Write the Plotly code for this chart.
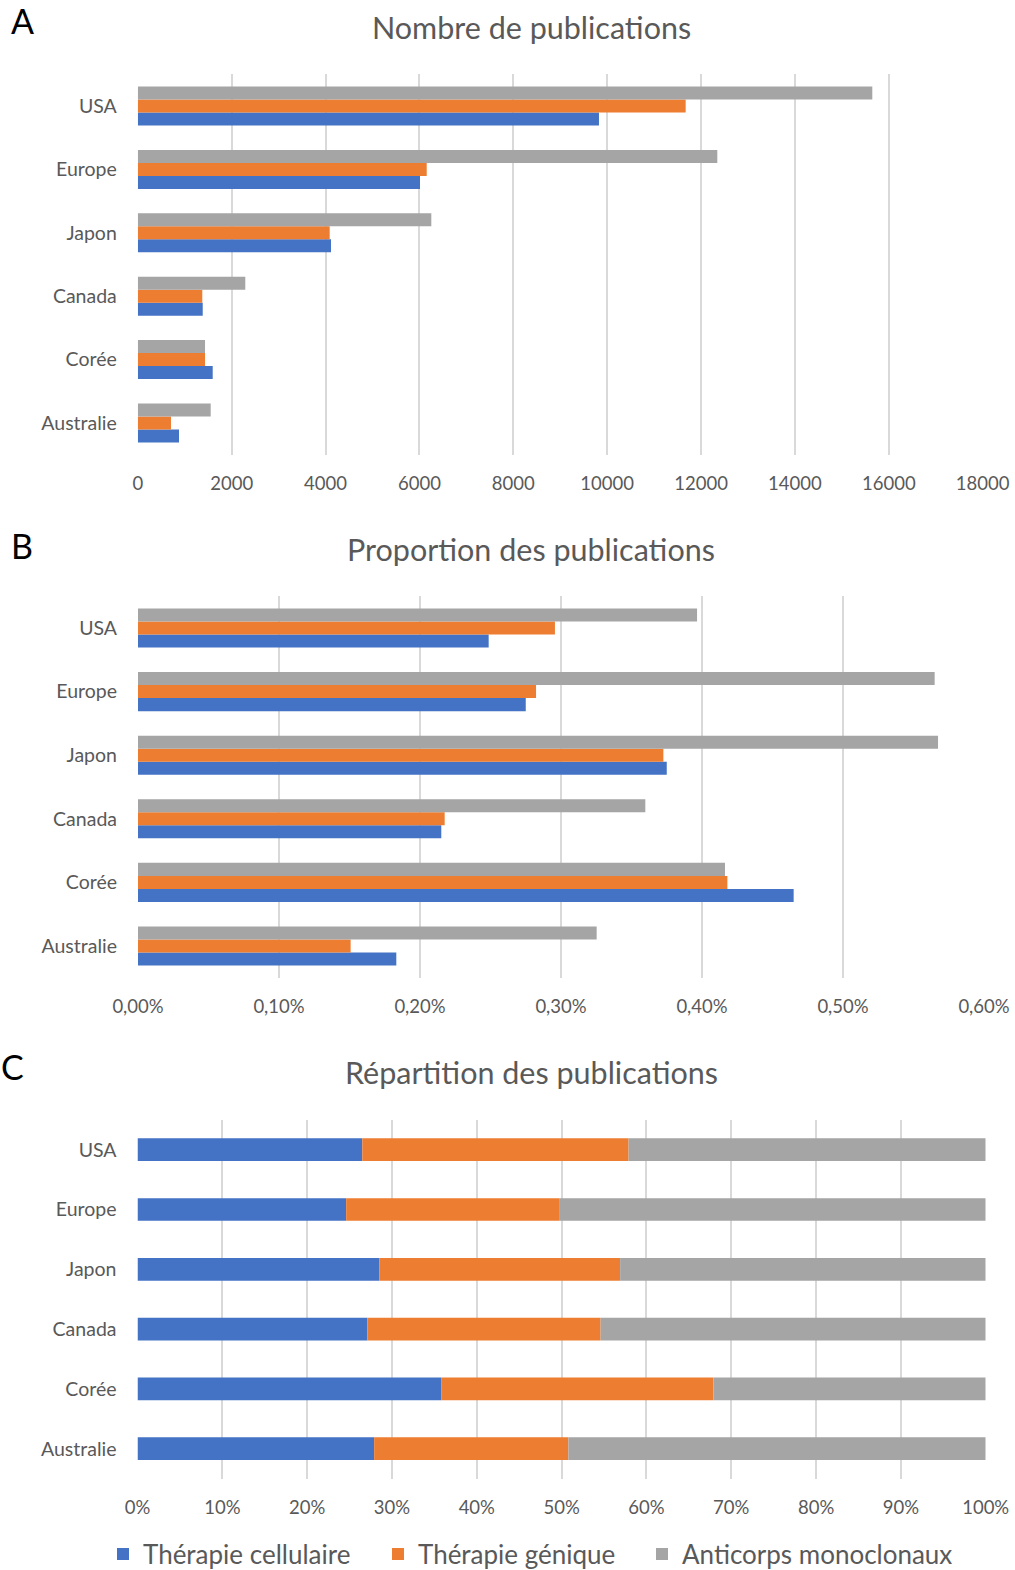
import plotly.graph_objects as go

countries = ["USA", "Europe", "Japon", "Canada", "Corée", "Australie"]
series_names = ["Thérapie cellulaire", "Thérapie génique", "Anticorps monoclonaux"]

# Panel A: number of publications
nb_cell = [9825, 6012, 4116, 1383, 1596, 878]
nb_gene = [11672, 6155, 4088, 1374, 1432, 707]
nb_mab = [15648, 12346, 6253, 2290, 1432, 1553]

# Panel B: proportion of publications (fraction)
pr_cell = [0.002487, 0.00275, 0.00375, 0.002151, 0.00465, 0.001832]
pr_gene = [0.002957, 0.002823, 0.003726, 0.002175, 0.00418, 0.001508]
pr_mab = [0.003965, 0.00565, 0.005674, 0.003598, 0.004163, 0.003253]

# Panel C: share of publications (fraction)
rp_cell = [0.265, 0.246, 0.285, 0.271, 0.358, 0.279]
rp_gene = [0.314, 0.251, 0.284, 0.275, 0.321, 0.229]
rp_mab = [0.421, 0.503, 0.431, 0.454, 0.321, 0.492]

colors = ["#4472C4", "#ED7D31", "#A5A5A5"]
TXT = "#595959"
GRID = "#D9D9D9"
FONT = "Lato"

W, H = 1015, 1570
cat_order = countries[::-1]

fig = go.Figure()

def add_grouped(xa, ya, data, show):
    for name, vals, col in zip(series_names, data, colors):
        fig.add_trace(go.Bar(
            y=countries, x=vals, orientation="h", name=name,
            marker=dict(color=col, line=dict(width=0)),
            xaxis=xa, yaxis=ya, showlegend=show, hoverinfo="x+y+name"))

add_grouped("x", "y", [nb_cell, nb_gene, nb_mab], False)
add_grouped("x2", "y2", [pr_cell, pr_gene, pr_mab], False)

# Panel C: stacked via base
bases = [[0] * 6, rp_cell, [a + b for a, b in zip(rp_cell, rp_gene)]]
legend_ids = ["legend", "legend2", "legend3"]
for name, vals, col, base, lg in zip(series_names, [rp_cell, rp_gene, rp_mab], colors, bases, legend_ids):
    fig.add_trace(go.Bar(
        y=countries, x=vals, base=base, orientation="h", name=name,
        marker=dict(color=col, line=dict(width=0)),
        width=0.38, offset=-0.19, legend=lg,
        xaxis="x3", yaxis="y3", showlegend=True))

def px_dom_y(top, bot):
    return [1 - bot / H, 1 - top / H]

def px_dom_x(l, r):
    return [l / W, r / W]

xcommon = dict(showgrid=True, gridcolor=GRID, gridwidth=1.5, zeroline=False,
               showline=False, ticks="", tickfont=dict(family=FONT, size=18.5, color=TXT),
               ticklabelstandoff=16, fixedrange=True, automargin=False)
ycommon = dict(showgrid=False, zeroline=False, showline=False, ticks="",
               categoryorder="array", categoryarray=cat_order,
               range=[-0.5, 5.5],
               tickfont=dict(family=FONT, size=19.5, color=TXT),
               ticklabelstandoff=20, fixedrange=True, automargin=False)

def leg(text_start):
    return dict(orientation="h", x=(text_start - 40) / W, xanchor="left",
                y=1 - 1554 / H, yanchor="middle",
                font=dict(family=FONT, size=26, color=TXT),
                bgcolor="rgba(0,0,0,0)", borderwidth=0)

fig.update_layout(
    width=W, height=H,
    margin=dict(l=0, r=0, t=0, b=0, autoexpand=False),
    paper_bgcolor="white", plot_bgcolor="white",
    barmode="group", bargap=0.385, bargroupgap=0,
    separators=", ",
    font=dict(family=FONT, color=TXT),
    xaxis=dict(domain=px_dom_x(137.8, 982.7), anchor="y", range=[0, 18000],
               dtick=2000, tickformat="d", **xcommon),
    yaxis=dict(domain=px_dom_y(74.3, 454.7), anchor="x", **ycommon),
    xaxis2=dict(domain=px_dom_x(138, 984), anchor="y2", range=[0, 0.006],
                dtick=0.001, tickformat=".2%", **xcommon),
    yaxis2=dict(domain=px_dom_y(596.2, 977.8), anchor="x2", **ycommon),
    xaxis3=dict(domain=px_dom_x(137.5, 985.7), anchor="y3", range=[0, 1],
                dtick=0.1, tickformat=".0%", **xcommon),
    yaxis3=dict(domain=px_dom_y(1119.8, 1478.6), anchor="x3", **ycommon),
    legend=leg(143), legend2=leg(418), legend3=leg(682),
)

annots = [
    ("Nombre de publications", 531, 27),
    ("Proportion des publications", 531, 549),
    ("Répartition des publications", 531, 1072),
]
for t, x, y in annots:
    fig.add_annotation(text=t, x=x / W, y=1 - y / H, xref="paper", yref="paper",
                       showarrow=False, xanchor="center", yanchor="middle",
                       font=dict(family=FONT, size=30.5, color=TXT))
for t, x, y in [("A", 22, 21), ("B", 22, 545), ("C", 12, 1066)]:
    fig.add_annotation(text=t, x=x / W, y=1 - y / H, xref="paper", yref="paper",
                       showarrow=False, xanchor="center", yanchor="middle",
                       font=dict(family=FONT, size=34, color="black"))

fig.write_html("out.html", config={"displayModeBar": False},
               post_script="document.body.style.margin='0';document.body.style.overflow='hidden';")
